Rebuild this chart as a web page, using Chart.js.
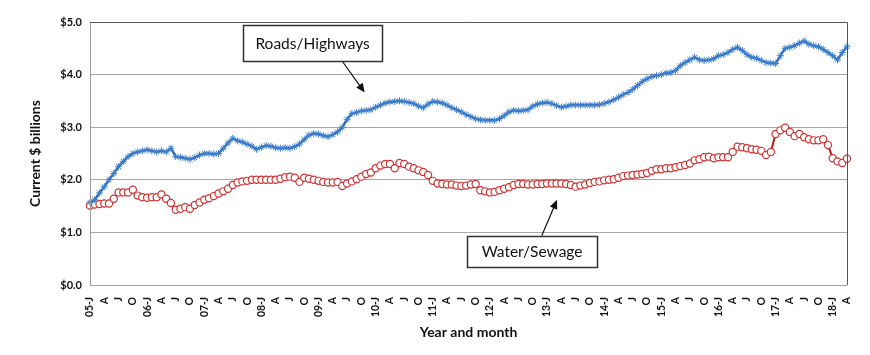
<!DOCTYPE html>
<html><head><meta charset="utf-8">
<script src="https://cdn.jsdelivr.net/npm/chart.js@4"></script>
<style>html,body{margin:0;padding:0;background:#fff}</style>
</head><body>
<canvas id="c" width="870" height="355"></canvas>
<script>
// ---- data ----
const years = ['05','06','07','08','09','10','11','12','13','14','15','16','17','18'];
const monthLetters = ['J','F','M','A','M','J','J','A','S','O','N','D'];
const lastYearMonths = 4; // Jan-Apr 2018
const yTickValues = [0,1,2,3,4,5];

const roadsHighways = [
1.57,1.62,1.75,1.87,2.00,2.12,2.25,2.35,2.44,2.50,2.53,2.55,
2.57,2.55,2.53,2.55,2.53,2.60,2.44,2.43,2.41,2.39,2.42,2.47,
2.50,2.50,2.49,2.50,2.60,2.70,2.79,2.74,2.72,2.68,2.64,2.58,
2.62,2.65,2.64,2.61,2.60,2.61,2.60,2.63,2.68,2.77,2.85,2.88,
2.87,2.84,2.82,2.86,2.91,3.00,3.15,3.26,3.28,3.31,3.32,3.33,
3.38,3.42,3.46,3.48,3.49,3.50,3.49,3.47,3.45,3.40,3.37,3.44,
3.49,3.48,3.46,3.42,3.37,3.33,3.29,3.24,3.20,3.16,3.14,3.13,
3.13,3.13,3.16,3.22,3.29,3.32,3.31,3.32,3.33,3.40,3.44,3.46,
3.47,3.45,3.41,3.38,3.40,3.42,3.42,3.42,3.42,3.42,3.42,3.43,
3.45,3.48,3.52,3.57,3.62,3.66,3.72,3.79,3.87,3.92,3.96,3.98,
4.00,4.03,4.04,4.08,4.17,4.23,4.28,4.33,4.28,4.27,4.28,4.30,
4.36,4.38,4.42,4.48,4.52,4.46,4.38,4.33,4.31,4.27,4.23,4.22,
4.21,4.36,4.50,4.52,4.55,4.60,4.64,4.58,4.55,4.53,4.48,4.42,
4.36,4.28,4.42,4.53
];

const waterSewage = [
1.51,1.53,1.54,1.55,1.55,1.64,1.76,1.76,1.76,1.81,1.70,1.67,
1.66,1.67,1.67,1.72,1.64,1.56,1.43,1.45,1.48,1.45,1.52,1.57,
1.62,1.65,1.69,1.74,1.78,1.83,1.90,1.95,1.97,1.98,2.00,2.00,
2.00,2.00,2.00,2.00,2.02,2.05,2.06,2.04,1.96,2.04,2.02,2.00,
1.98,1.96,1.95,1.95,1.96,1.88,1.93,1.97,2.01,2.06,2.11,2.14,
2.22,2.27,2.30,2.30,2.22,2.32,2.30,2.25,2.22,2.18,2.15,2.09,
1.98,1.93,1.92,1.91,1.91,1.89,1.88,1.89,1.91,1.92,1.80,1.78,
1.76,1.77,1.80,1.83,1.86,1.90,1.92,1.92,1.91,1.91,1.92,1.92,
1.93,1.93,1.93,1.93,1.92,1.90,1.87,1.89,1.91,1.94,1.96,1.97,
1.99,2.00,2.01,2.04,2.07,2.08,2.09,2.10,2.11,2.13,2.17,2.20,
2.20,2.22,2.22,2.24,2.26,2.28,2.31,2.37,2.39,2.43,2.44,2.41,
2.43,2.43,2.43,2.53,2.63,2.62,2.60,2.58,2.57,2.55,2.47,2.53,
2.87,2.94,2.99,2.91,2.83,2.87,2.81,2.77,2.75,2.75,2.77,2.66,
2.41,2.35,2.32,2.40
];

// categories (one per month) and short tick labels
const months = [];
const monthTickLabels = [];
years.forEach((y, yi) => {
  const n = (yi === years.length - 1) ? lastYearMonths : 12;
  for (let m = 0; m < n; m++) {
    months.push(y + '-' + monthLetters[m]);
    monthTickLabels.push(m === 0 ? y + '-J' : monthLetters[m]);
  }
});

// callouts: box corners and arrow in data units (category index, $ value)
const callouts = [
  {text: 'Roads/Highways', x0: 32.1, x1: 61.4, y0: 4.94, y1: 4.26, ax: 53.1, ay: 4.24, bx: 57.7, by: 3.66},
  {text: 'Water/Sewage',   x0: 79.2, x1: 106.5, y0: 0.94, y1: 0.35, ax: 94.9, ay: 0.94, bx: 98.1, by: 1.62}
];

const FONT = 'Lato, "Open Sans", sans-serif';

const framePlugin = {
  id: 'frame',
  afterDatasetsDraw(chart) {
    const {ctx, chartArea: a, scales: {x, y}} = chart;
    ctx.save();
    // plot frame
    ctx.lineWidth = 1;
    ctx.strokeStyle = '#9a9a9a';
    ctx.beginPath(); ctx.moveTo(a.left + 0.5, a.top); ctx.lineTo(a.left + 0.5, a.bottom); ctx.stroke();
    ctx.strokeStyle = '#555';
    ctx.beginPath(); ctx.moveTo(a.left, a.top + 0.5); ctx.lineTo(a.right + 0.5, a.top + 0.5); ctx.lineTo(a.right + 0.5, a.bottom); ctx.stroke();
    // callouts
    callouts.forEach(c => {
      const l = x.getPixelForValue(c.x0), r = x.getPixelForValue(c.x1);
      const t = y.getPixelForValue(c.y0), b = y.getPixelForValue(c.y1);
      ctx.fillStyle = '#fff';
      ctx.fillRect(l, t, r - l, b - t);
      ctx.strokeStyle = '#333';
      ctx.lineWidth = 1.5;
      ctx.strokeRect(Math.round(l) + 0.5, Math.round(t) + 0.5, Math.round(r - l), Math.round(b - t));
      ctx.fillStyle = '#111';
      ctx.font = '15.5px ' + FONT;
      ctx.textAlign = 'center';
      ctx.textBaseline = 'middle';
      ctx.fillText(c.text, (l + r) / 2, (t + b) / 2 + 1);
      // arrow
      const x1 = x.getPixelForValue(c.ax), y1 = y.getPixelForValue(c.ay);
      const x2 = x.getPixelForValue(c.bx), y2 = y.getPixelForValue(c.by);
      const ang = Math.atan2(y2 - y1, x2 - x1);
      const hl = 9, hw = 4;
      ctx.strokeStyle = '#111';
      ctx.lineWidth = 1.2;
      ctx.beginPath(); ctx.moveTo(x1, y1);
      ctx.lineTo(x2 - Math.cos(ang) * hl * 0.8, y2 - Math.sin(ang) * hl * 0.8); ctx.stroke();
      ctx.fillStyle = '#111';
      ctx.beginPath();
      ctx.moveTo(x2, y2);
      ctx.lineTo(x2 - Math.cos(ang) * hl - Math.sin(ang) * hw, y2 - Math.sin(ang) * hl + Math.cos(ang) * hw);
      ctx.lineTo(x2 - Math.cos(ang) * hl + Math.sin(ang) * hw, y2 - Math.sin(ang) * hl - Math.cos(ang) * hw);
      ctx.closePath(); ctx.fill();
    });
    ctx.restore();
  }
};

new Chart(document.getElementById('c'), {
  type: 'line',
  data: {
    labels: months,
    datasets: [
      {
        label: 'Roads/Highways',
        data: roadsHighways,
        borderColor: '#2f6fbf',
        borderWidth: 2.5,
        pointStyle: 'star',
        pointRadius: 3.5,
        pointBorderColor: '#3f80cf',
        pointBackgroundColor: '#3f80cf',
        pointBorderWidth: 1,
        tension: 0
      },
      {
        label: 'Water/Sewage',
        data: waterSewage,
        borderColor: '#b01c1c',
        borderWidth: 2,
        pointStyle: 'circle',
        pointRadius: 3.6,
        pointBorderColor: '#cc3333',
        pointBackgroundColor: '#ffffff',
        pointBorderWidth: 1.2,
        tension: 0
      }
    ]
  },
  options: {
    responsive: false,
    devicePixelRatio: 1,
    animation: false,
    layout: {padding: {left: 27, top: 22, right: 23, bottom: 14}},
    plugins: {legend: {display: false}, tooltip: {enabled: false}},
    scales: {
      y: {
        min: 0, max: 5,
        afterBuildTicks: s => { s.ticks = yTickValues.map(v => ({value: v})); },
        afterFit: s => { s.width = 63; },
        ticks: {
          callback: v => '$' + Number(v).toFixed(1),
          font: {family: FONT, size: 11, weight: 'bold'},
          color: '#111',
          padding: 8
        },
        grid: {color: '#a6a6a6', lineWidth: 1, drawTicks: false},
        border: {display: false},
        title: {display: true, text: 'Current $ billions', font: {family: FONT, size: 14, weight: 'bold'}, color: '#111', padding: 0}
      },
      x: {
        offset: false,
        afterFit: s => { s.height = 56; },
        ticks: {
          autoSkip: false,
          minRotation: 90, maxRotation: 90,
          padding: 4,
          font: {family: FONT, size: 10.5, weight: 'bold'},
          color: '#111',
          callback: (v, i) => (i % 3 === 0 ? monthTickLabels[i] : '')
        },
        grid: {display: false},
        border: {display: false},
        title: {display: true, text: 'Year and month', font: {family: FONT, size: 14, weight: 'bold'}, color: '#111', padding: 0}
      }
    }
  },
  plugins: [framePlugin]
});
</script>
</body></html>
